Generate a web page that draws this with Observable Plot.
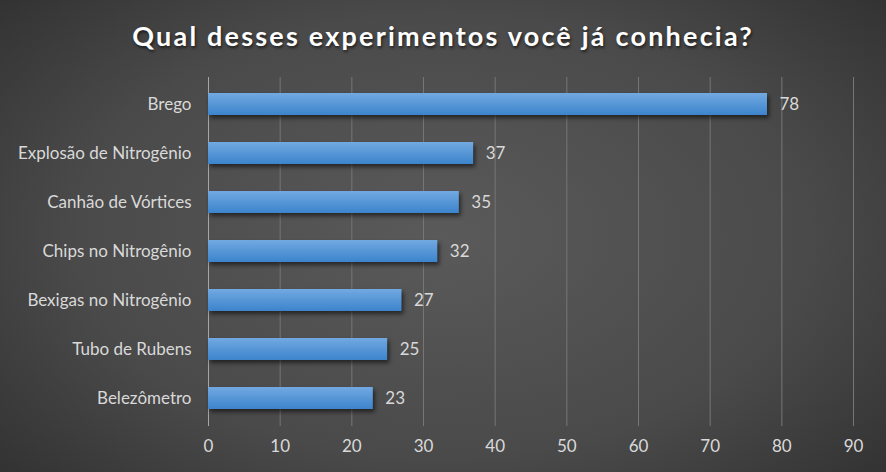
<!DOCTYPE html>
<html>
<head>
<meta charset="utf-8">
<script src="https://cdn.jsdelivr.net/npm/d3@7"></script>
<script src="https://cdn.jsdelivr.net/npm/@observablehq/plot@0.6"></script>
<style>
  html, body { margin: 0; padding: 0; }
  #chart {
    width: 886px; height: 472px; overflow: hidden;
    background: radial-gradient(ellipse 75% 85% at 50% 50%, #5a5a5a 0%, #4a4a4a 55%, #2b2b2b 100%);
    font-family: Lato, "Open Sans", sans-serif;
  }
  #title {
    height: 72px; line-height: 72px; text-align: center;
    color: #ffffff; font-weight: bold; font-size: 27px; letter-spacing: 2.2px;
    text-shadow: 1px 2px 3px rgba(0,0,0,0.6);
    box-sizing: border-box;
  }
  rect.shadowed { filter: drop-shadow(2px 3px 2px rgba(0,0,0,0.55)); }
</style>
</head>
<body>
<div id="chart"><div id="title">Qual desses experimentos você já conhecia?</div></div>
<script>
const categories = ["Brego", "Explosão de Nitrogênio", "Canhão de Vórtices", "Chips no Nitrogênio", "Bexigas no Nitrogênio", "Tubo de Rubens", "Belezômetro"];
const values = [78, 37, 35, 32, 27, 25, 23];
const xTicks = [0, 10, 20, 30, 40, 50, 60, 70, 80, 90];

const data = categories.map((c, i) => ({category: c, value: values[i]}));

const plot = Plot.plot({
  width: 886,
  height: 400,
  marginTop: 5,
  marginBottom: 46,
  marginLeft: 208,
  marginRight: 33,
  style: {background: "transparent", color: "#d9d9d9", fontFamily: "Lato, 'Open Sans', sans-serif", fontSize: "17px", overflow: "visible"},
  x: {domain: [0, 90], ticks: xTicks, label: null},
  y: {domain: categories, label: null, paddingInner: 0.55, paddingOuter: 0.275},
  marks: [
    () => {
      const ns = "http://www.w3.org/2000/svg";
      const defs = document.createElementNS(ns, "defs");
      defs.innerHTML = `<linearGradient id="barGrad" x1="0" y1="0" x2="0" y2="1">
        <stop offset="0%" stop-color="#72a9e1"/>
        <stop offset="100%" stop-color="#3c84cc"/>
      </linearGradient>`;
      return defs;
    },
    Plot.gridX(xTicks.filter(d => d > 0), {stroke: "#767676", strokeOpacity: 1, strokeWidth: 1}),
    Plot.ruleX([0], {stroke: "#a6a6a6", strokeWidth: 1}),
    Plot.barX(data, {x: "value", y: "category", fill: "url(#barGrad)", className: "bars"}),
    Plot.text(data, {x: "value", y: "category", text: d => String(d.value), textAnchor: "start", dx: 12, fill: "#d9d9d9", fontSize: 17}),
    Plot.axisX({ticks: xTicks, tickSize: 0, tickPadding: 13, fontSize: 17, fill: "#d9d9d9", label: null}),
    Plot.axisY({tickSize: 0, tickPadding: 17, fontSize: 17, fill: "#d9d9d9", label: null})
  ]
});
plot.querySelectorAll("g.bars rect, .bars rect").forEach(r => r.classList.add("shadowed"));
document.getElementById("chart").appendChild(plot);
</script>
</body>
</html>
